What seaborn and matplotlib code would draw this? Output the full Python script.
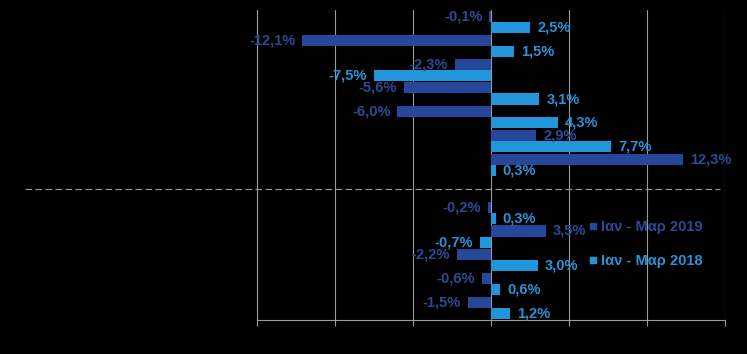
import matplotlib
matplotlib.use("Agg")
import matplotlib.pyplot as plt
import seaborn as sns
import pandas as pd
import numpy as np
from matplotlib.lines import Line2D

# ---- data ----
categories = ["c1", "c2", "c3", "c4", "c5", "c6", "c7", "gap",
              "c8", "c9", "c10", "c11", "c12"]
series_names = ["Ιαν - Μαρ 2019", "Ιαν - Μαρ 2018"]
values_2019 = [-0.1, -12.1, -2.3, -5.6, -6.0, 2.9, 12.3, np.nan,
               -0.2, 3.5, -2.2, -0.6, -1.5]
values_2018 = [2.5, 1.5, -7.5, 3.1, 4.3, 7.7, 0.3, np.nan,
               0.3, -0.7, 3.0, 0.6, 1.2]
x_ticks = [-15, -10, -5, 0, 5, 10, 15]

dark = "#27489A"
light = "#2296DA"
dark_txt = "#2D4A95"
light_txt = "#2A93D6"
grid_col = "#9A9A9A"

df = pd.DataFrame({
    "cat": categories * 2,
    "series": [series_names[0]] * len(categories) + [series_names[1]] * len(categories),
    "value": values_2019 + values_2018,
})

sns.set_style("white")
plt.rcParams["font.family"] = ["Liberation Sans", "DejaVu Sans"]

fig = plt.figure(figsize=(7.47, 3.54), dpi=100)
fig.patch.set_facecolor("black")
ax = fig.add_axes([257 / 747, 1 - 320 / 354, (725 - 257) / 747, (320 - 10) / 354])
ax.set_facecolor("black")

sns.barplot(data=df, y="cat", x="value", hue="series", order=categories,
            hue_order=series_names, palette=[dark, light], orient="h",
            width=0.93, saturation=1, ax=ax, legend=False, errorbar=None,
            edgecolor="none", linewidth=0)

ax.set_xlim(-15, 15)
ax.set_ylim(len(categories) - 0.5, -0.5)
ax.set_xticks(x_ticks)
ax.set_xticklabels([])
ax.set_yticks([])
ax.set_xlabel("")
ax.set_ylabel("")
ax.grid(axis="x", color=grid_col, lw=0.8)
ax.grid(axis="y", visible=False)
ax.set_axisbelow(True)
ax.tick_params(axis="x", direction="out", length=4, color=grid_col, width=0.8, bottom=True)
for s in ["top", "right"]:
    ax.spines[s].set_visible(False)
for s in ["left", "bottom"]:
    ax.spines[s].set_color(grid_col)
    ax.spines[s].set_linewidth(0.8)

# value labels
txt_cols = [dark_txt, light_txt]
for cont, col in zip(ax.containers, txt_cols):
    for bar in cont:
        v = bar.get_width()
        if np.isnan(v):
            continue
        yc = bar.get_y() + bar.get_height() / 2
        lab = f"{v:.1f}%".replace(".", ",")
        if v >= 0:
            ax.text(v + 0.45, yc, lab, ha="left", va="center", color=col,
                    fontsize=10.5, fontweight="bold")
        else:
            ax.text(v - 0.45, yc, lab, ha="right", va="center", color=col,
                    fontsize=10.5, fontweight="bold")

# dashed separator
gap_idx = categories.index("gap")
ax.axhline(gap_idx, xmin=(25 - 257) / 468, xmax=(720 - 257) / 468,
           color=grid_col, lw=0.8, ls=(0, (6, 3)), clip_on=False)

# legend
handles = [Line2D([0], [0], marker="s", ls="", color=c, markersize=5) for c in [dark, light]]
leg = fig.legend(handles, series_names, loc="center left",
                 bbox_to_anchor=(576 / 747, 1 - 244 / 354), frameon=False,
                 handlelength=0.5, handletextpad=0.3, labelspacing=1.35,
                 prop={"size": 10.5, "weight": "bold"})
for t, c in zip(leg.get_texts(), [dark_txt, light_txt]):
    t.set_color(c)

fig.savefig("out.png", dpi=100, facecolor="black")
